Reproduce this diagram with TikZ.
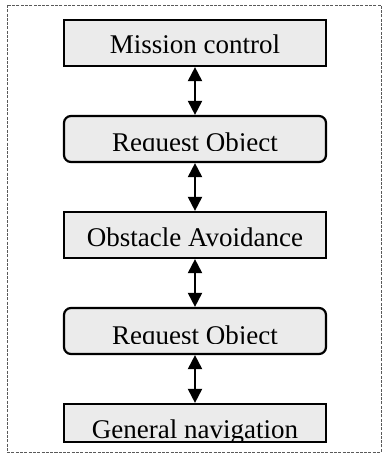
\documentclass[tikz,border=0pt]{standalone}
\usepackage{fontspec}
\setmainfont{Liberation Serif}
\usetikzlibrary{arrows.meta}
\definecolor{boxgray}{RGB}{235,235,235}
\definecolor{framegray}{RGB}{90,90,90}
\begin{document}
\begin{tikzpicture}[x=1pt,y=-1pt,
  stage/.style={draw=black, line width=2.2pt, fill=boxgray,
    minimum width=262pt, minimum height=46pt, inner sep=0pt},
  request/.style={stage, rounded corners=7pt},
  caption/.style={font=\fontsize{27}{30}\selectfont, anchor=base, inner sep=0pt},
  link/.style={line width=2pt,
    {Triangle[length=14pt,width=14pt]}-{Triangle[length=14pt,width=14pt]}},
  frame/.style={draw=framegray, line width=0.8pt, dash pattern=on 3pt off 1.3pt}
]
\useasboundingbox (0,0) rectangle (383,462);

% outer dashed frame
\draw[frame] (7,5) rectangle (381,452);

% boxes of the layered architecture
\node[stage]   (mission)  at (195,43)  {};
\node[request] (req1)     at (195,139) {};
\node[stage]   (obstacle) at (195,235) {};
\node[request] (req2)     at (195,331) {};
\node[stage, minimum height=38pt] (general) at (195,423) {};

% labels (request and navigation texts are cut off at the bottom)
\node[caption] (missiontext) at (195,54) {Mission control};
\node[caption] (obstacletext) at (195,246) {Obstacle Avoidance};
\begin{scope}
  \clip (62,115) rectangle (328,151);
  \node[caption] (req1text) at (195,152) {Request Object};
\end{scope}
\begin{scope}
  \clip (62,307) rectangle (328,343);
  \node[caption] (req2text) at (195,344) {Request Object};
\end{scope}
\begin{scope}
  \clip (62,403) rectangle (328,441);
  \node[caption] (generaltext) at (195,438) {General navigation};
\end{scope}

% two-way links between neighbouring layers
\draw[link] (mission.south)  -- (req1.north);
\draw[link] (req1.south)     -- (obstacle.north);
\draw[link] (obstacle.south) -- (req2.north);
\draw[link] (req2.south)     -- (general.north);
\end{tikzpicture}
\end{document}
